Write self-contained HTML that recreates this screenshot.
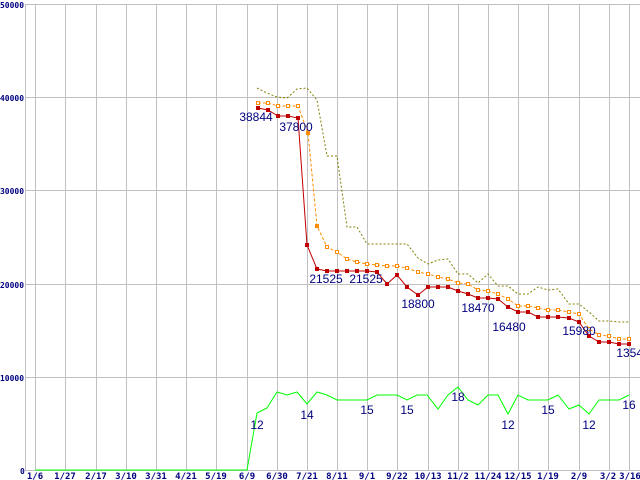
<!DOCTYPE html>
<html><head><meta charset="utf-8"><style>
html,body{margin:0;padding:0;background:#fff;}
svg{display:block;}
.ax{font-family:"DejaVu Sans Mono","Liberation Mono",monospace;font-size:9px;font-weight:bold;fill:#000080;}
.ay{font-family:"DejaVu Sans Mono","Liberation Mono",monospace;font-size:8px;font-weight:bold;fill:#000080;}
.lb{font-family:"Liberation Sans",sans-serif;font-size:12px;fill:#000080;}
</style></head><body>
<svg width="640" height="480" xmlns="http://www.w3.org/2000/svg">
<rect width="640" height="480" fill="#fff"/>
<g stroke="#c0c0c0" stroke-width="1">
<line x1="25" y1="4.5" x2="640" y2="4.5"/>
<line x1="25" y1="97.5" x2="640" y2="97.5"/>
<line x1="25" y1="190.5" x2="640" y2="190.5"/>
<line x1="25" y1="284.5" x2="640" y2="284.5"/>
<line x1="25" y1="377.5" x2="640" y2="377.5"/>
<line x1="25" y1="470.5" x2="640" y2="470.5"/>
<line x1="25.5" y1="4" x2="25.5" y2="471"/>
<g>
<line x1="35.5" y1="4" x2="35.5" y2="471"/><line x1="65.5" y1="4" x2="65.5" y2="471"/><line x1="96.5" y1="4" x2="96.5" y2="471"/><line x1="126.5" y1="4" x2="126.5" y2="471"/><line x1="156.5" y1="4" x2="156.5" y2="471"/><line x1="186.5" y1="4" x2="186.5" y2="471"/><line x1="216.5" y1="4" x2="216.5" y2="471"/><line x1="247.5" y1="4" x2="247.5" y2="471"/><line x1="277.5" y1="4" x2="277.5" y2="471"/><line x1="307.5" y1="4" x2="307.5" y2="471"/><line x1="337.5" y1="4" x2="337.5" y2="471"/><line x1="367.5" y1="4" x2="367.5" y2="471"/><line x1="397.5" y1="4" x2="397.5" y2="471"/><line x1="428.5" y1="4" x2="428.5" y2="471"/><line x1="458.5" y1="4" x2="458.5" y2="471"/><line x1="488.5" y1="4" x2="488.5" y2="471"/><line x1="518.5" y1="4" x2="518.5" y2="471"/><line x1="548.5" y1="4" x2="548.5" y2="471"/><line x1="579.5" y1="4" x2="579.5" y2="471"/><line x1="609.5" y1="4" x2="609.5" y2="471"/><line x1="629.5" y1="4" x2="629.5" y2="471"/>
</g></g>
<g class="ay">
<text x="0" y="8" textLength="24" lengthAdjust="spacingAndGlyphs">50000</text><text x="0" y="101" textLength="24" lengthAdjust="spacingAndGlyphs">40000</text><text x="0" y="194" textLength="24" lengthAdjust="spacingAndGlyphs">30000</text><text x="0" y="288" textLength="24" lengthAdjust="spacingAndGlyphs">20000</text><text x="0" y="381" textLength="24" lengthAdjust="spacingAndGlyphs">10000</text><text x="20" y="474">0</text>
</g>
<g class="ax" text-anchor="middle">
<text x="35" y="479">1/6</text><text x="65" y="479">1/27</text><text x="96" y="479">2/17</text><text x="126" y="479">3/10</text><text x="156" y="479">3/31</text><text x="186" y="479">4/21</text><text x="216" y="479">5/19</text><text x="247" y="479">6/9</text><text x="277" y="479">6/30</text><text x="307" y="479">7/21</text><text x="337" y="479">8/11</text><text x="367" y="479">9/1</text><text x="397" y="479">9/22</text><text x="428" y="479">10/13</text><text x="458" y="479">11/2</text><text x="488" y="479">11/24</text><text x="518" y="479">12/15</text><text x="548" y="479">1/19</text><text x="579" y="479">2/9</text><text x="608" y="479">3/2</text><text x="630" y="479">3/16</text>
</g>
<polyline fill="none" stroke="#808000" stroke-width="1" stroke-dasharray="2,2" points="257,88 267,93 277,97 287,98 297,89 307,88 317,100 327,156 337,156 347,227 357,227 367,244 377,244 387,244 397,244 407,244 418,258 428,264 438,260 448,259 458,274 468,274 478,283 488,274 498,286 508,286 518,294 528,294 538,287 548,290 558,289 569,304 579,304 589,312 599,321 609,321 619,322 629,322"/>
<polyline fill="none" stroke="#ff8c00" stroke-width="1" stroke-dasharray="3,2" points="258,103 268,103 278,106 288,106 298,106 308,133 317,226 327,247 337,252 347,259 357,262 367,264 377,265 387,266 397,266 407,268 418,272 428,274 438,277 448,279 458,283 468,284 478,290 488,291 498,294 508,299 518,306 528,306 538,308 548,310 558,310 569,312 579,314 589,329 599,335 609,336 619,339 629,339"/>
<g fill="#fff" stroke="#ff8c00" stroke-width="1">
<rect x="256.5" y="101.5" width="3" height="3"/><rect x="266.5" y="101.5" width="3" height="3"/><rect x="276.5" y="104.5" width="3" height="3"/><rect x="286.5" y="104.5" width="3" height="3"/><rect x="296.5" y="104.5" width="3" height="3"/><rect x="306.5" y="131.5" width="3" height="3" fill="#ff8c00"/><rect x="315.5" y="224.5" width="3" height="3" fill="#ff8c00"/><rect x="325.5" y="245.5" width="3" height="3"/><rect x="335.5" y="250.5" width="3" height="3"/><rect x="345.5" y="257.5" width="3" height="3"/><rect x="355.5" y="260.5" width="3" height="3"/><rect x="365.5" y="262.5" width="3" height="3"/><rect x="375.5" y="263.5" width="3" height="3"/><rect x="385.5" y="264.5" width="3" height="3"/><rect x="395.5" y="264.5" width="3" height="3"/><rect x="405.5" y="266.5" width="3" height="3"/><rect x="416.5" y="270.5" width="3" height="3"/><rect x="426.5" y="272.5" width="3" height="3"/><rect x="436.5" y="275.5" width="3" height="3"/><rect x="446.5" y="277.5" width="3" height="3"/><rect x="456.5" y="281.5" width="3" height="3"/><rect x="466.5" y="282.5" width="3" height="3"/><rect x="476.5" y="288.5" width="3" height="3"/><rect x="486.5" y="289.5" width="3" height="3"/><rect x="496.5" y="292.5" width="3" height="3"/><rect x="506.5" y="297.5" width="3" height="3"/><rect x="516.5" y="304.5" width="3" height="3"/><rect x="526.5" y="304.5" width="3" height="3"/><rect x="536.5" y="306.5" width="3" height="3"/><rect x="546.5" y="308.5" width="3" height="3"/><rect x="556.5" y="308.5" width="3" height="3"/><rect x="567.5" y="310.5" width="3" height="3"/><rect x="577.5" y="312.5" width="3" height="3"/><rect x="587.5" y="327.5" width="3" height="3"/><rect x="597.5" y="333.5" width="3" height="3"/><rect x="607.5" y="334.5" width="3" height="3"/><rect x="617.5" y="337.5" width="3" height="3"/><rect x="627.5" y="337.5" width="3" height="3"/>
</g>
<polyline fill="none" stroke="#c00000" stroke-width="1" points="258,108 268,110 278,116 288,116 298,118 307,245 317,269 327,271 337,271 347,271 357,271 367,271 377,272 387,284 397,275 407,287 418,295 428,287 438,287 448,287 458,291 468,294 478,298 488,298 498,299 508,307 518,312 528,312 538,317 548,317 558,317 569,318 579,322 589,336 599,342 609,342 619,344 629,344"/>
<g fill="#c00000">
<rect x="256" y="106" width="4" height="4"/><rect x="266" y="108" width="4" height="4"/><rect x="276" y="114" width="4" height="4"/><rect x="286" y="114" width="4" height="4"/><rect x="296" y="116" width="4" height="4"/><rect x="305" y="243" width="4" height="4"/><rect x="315" y="267" width="4" height="4"/><rect x="325" y="269" width="4" height="4"/><rect x="335" y="269" width="4" height="4"/><rect x="345" y="269" width="4" height="4"/><rect x="355" y="269" width="4" height="4"/><rect x="365" y="269" width="4" height="4"/><rect x="375" y="270" width="4" height="4"/><rect x="385" y="282" width="4" height="4"/><rect x="395" y="273" width="4" height="4"/><rect x="405" y="285" width="4" height="4"/><rect x="416" y="293" width="4" height="4"/><rect x="426" y="285" width="4" height="4"/><rect x="436" y="285" width="4" height="4"/><rect x="446" y="285" width="4" height="4"/><rect x="456" y="289" width="4" height="4"/><rect x="466" y="292" width="4" height="4"/><rect x="476" y="296" width="4" height="4"/><rect x="486" y="296" width="4" height="4"/><rect x="496" y="297" width="4" height="4"/><rect x="506" y="305" width="4" height="4"/><rect x="516" y="310" width="4" height="4"/><rect x="526" y="310" width="4" height="4"/><rect x="536" y="315" width="4" height="4"/><rect x="546" y="315" width="4" height="4"/><rect x="556" y="315" width="4" height="4"/><rect x="567" y="316" width="4" height="4"/><rect x="577" y="320" width="4" height="4"/><rect x="587" y="334" width="4" height="4"/><rect x="597" y="340" width="4" height="4"/><rect x="607" y="340" width="4" height="4"/><rect x="617" y="342" width="4" height="4"/><rect x="627" y="342" width="4" height="4"/>
</g>
<polyline fill="none" stroke="#00ff00" stroke-width="1" points="35,470 247,470 257,413 267,408 277,392 287,395 297,392 307,404 317,392 327,395 337,400 347,400 357,400 367,400 377,395 387,395 397,395 407,400 417,395 427,395 438,409 448,395 458,387 468,400 478,405 488,395 498,395 508,414 518,395 528,400 538,400 548,400 558,395 569,409 579,405 589,414 599,400 609,400 619,400 629,395"/>
<g class="lb" text-anchor="middle">
<text x="256" y="121">38844</text><text x="296" y="131">37800</text><text x="326" y="283">21525</text><text x="366" y="283">21525</text><text x="418" y="308">18800</text><text x="478" y="312">18470</text><text x="509" y="331">16480</text><text x="579" y="335">15980</text><text x="633" y="357">13545</text>
<text x="257" y="429">12</text><text x="307" y="419">14</text><text x="367" y="414">15</text><text x="407" y="414">15</text><text x="458" y="401">18</text><text x="508" y="429">12</text><text x="548" y="414">15</text><text x="589" y="429">12</text><text x="629" y="409">16</text>
</g>
</svg>
</body></html>
